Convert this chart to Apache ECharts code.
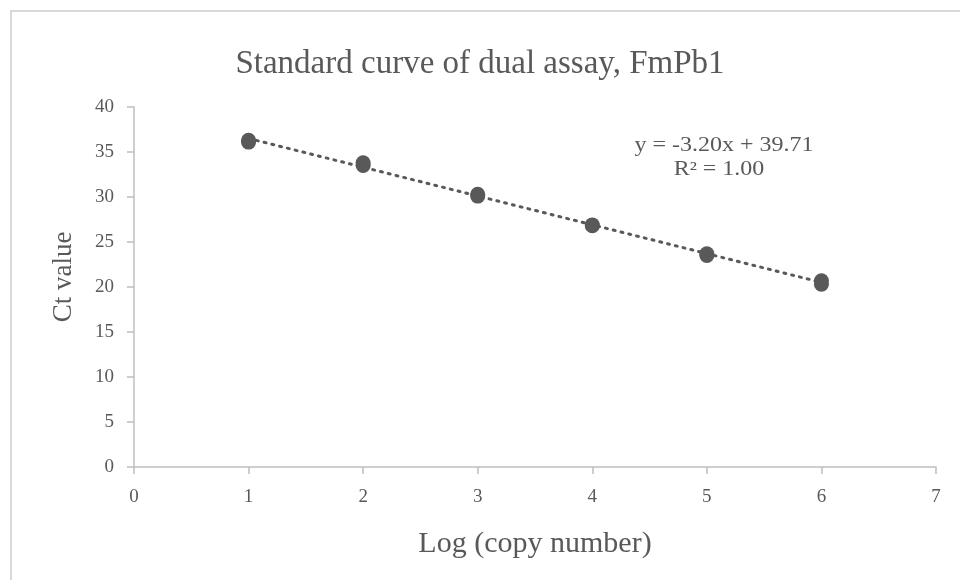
<!DOCTYPE html>
<html>
<head>
<meta charset="utf-8">
<script src="https://cdn.jsdelivr.net/npm/echarts@6/dist/echarts.min.js"></script>
<style>
	html, body { margin: 0; padding: 0; background: #fff; }
	#main { width: 960px; height: 580px; }
</style>
</head>
<body>
<div id="main"></div>
<script>
	// log(copy number) and duplicate Ct readings
	var logCopies = [1, 2, 3, 4, 5, 6];
	var ctRep1 = [36.1, 33.5, 30.1, 26.8, 23.5, 20.3];
	var ctRep2 = [36.3, 33.8, 30.3, 26.9, 23.7, 20.7];
	// trendline from the label
	var slope = -3.20;
	var intercept = 39.71;
	var rSquared = 1.00;

	var points = [];
	logCopies.forEach(function(x, i) {
		points.push([x, ctRep1[i]]);
		points.push([x, ctRep2[i]]);
	});
	var xFirst = logCopies[0], xLast = logCopies[logCopies.length - 1];
	var trend = [[xFirst, slope * xFirst + intercept], [xLast, slope * xLast + intercept]];

	var grey = '#595959';
	var font = '"Liberation Serif", "Times New Roman", serif';

	var chart = echarts.init(document.getElementById('main'));
	chart.setOption({
		animation: false,
		textStyle: { fontFamily: font },
		title: {
			text: 'Standard curve of dual assay, FmPb1',
			left: 'center',
			top: 43,
			textStyle: { fontFamily: font, fontSize: 33, fontWeight: 'normal', color: grey }
		},
		grid: { left: 134, right: 24, top: 107, bottom: 113 },
		xAxis: {
			type: 'value', min: 0, max: 7, interval: 1,
			name: 'Log (copy number)', nameLocation: 'middle', nameGap: 62,
			nameTextStyle: { fontFamily: font, fontSize: 30, color: grey },
			axisLine: { lineStyle: { color: '#bfbfbf', width: 1.5 } },
			axisTick: { show: true, length: 7, lineStyle: { color: '#bfbfbf', width: 1.5 } },
			axisLabel: { fontFamily: font, fontSize: 19, color: grey, margin: 21 },
			splitLine: { show: false }
		},
		yAxis: {
			type: 'value', min: 0, max: 40, interval: 5,
			name: 'Ct value', nameLocation: 'middle', nameGap: 57,
			nameTextStyle: { fontFamily: font, fontSize: 27, color: grey, padding: [0, 0, 0, 20] },
			axisLine: { show: true, lineStyle: { color: '#bfbfbf', width: 1.5 } },
			axisTick: { show: true, length: 7, lineStyle: { color: '#bfbfbf', width: 1.5 } },
			axisLabel: { fontFamily: font, fontSize: 19, color: grey, margin: 20 },
			splitLine: { show: false }
		},
		graphic: [
			{
				type: 'rect', silent: true,
				shape: { x: 11, y: 11, width: 1000, height: 1000 },
				style: { fill: 'none', stroke: '#d9d9d9', lineWidth: 2 }
			},
			{
				type: 'text', x: 724, y: 146, scaleX: 1.2, silent: true,
				style: {
					text: 'y = ' + slope.toFixed(2) + 'x + ' + intercept.toFixed(2),
					font: '20px ' + font, fill: grey, align: 'center', verticalAlign: 'middle'
				}
			},
			{
				type: 'text', x: 719, y: 170, scaleX: 1.2, silent: true,
				style: {
					text: 'R² = ' + rSquared.toFixed(2),
					font: '20px ' + font, fill: grey, align: 'center', verticalAlign: 'middle'
				}
			}
		],
		series: [
			{
				type: 'line',
				data: trend,
				symbol: 'none',
				lineStyle: { color: '#595959', width: 3, type: [2, 6], cap: 'round' },
				z: 1
			},
			{
				type: 'scatter',
				data: points,
				symbolSize: 15,
				itemStyle: { color: '#595959', opacity: 1 },
				z: 2
			}
		]
	});
</script>
</body>
</html>
